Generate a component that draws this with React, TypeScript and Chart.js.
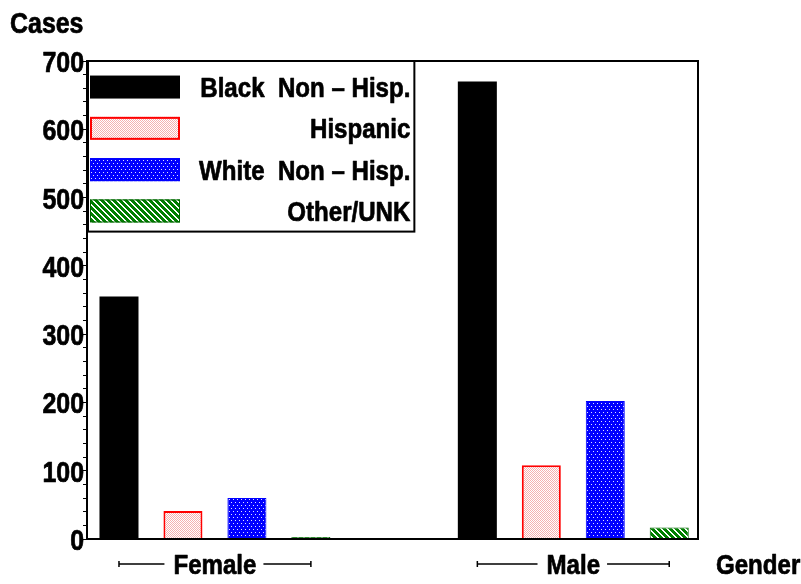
import React, { useEffect, useRef } from 'react';
import { Chart, registerables } from 'chart.js';

Chart.register(...registerables);

// ---- data ----
const categories = ['Female', 'Male'];
const seriesNames = ['Black  Non – Hisp.', 'Hispanic', 'White  Non – Hisp.', 'Other/UNK'];
const blackNonHisp = [355, 670];
const hispanic = [41, 108];
const whiteNonHisp = [60, 202];
const otherUnk = [3, 17];
const yTickLabels = [0, 100, 200, 300, 400, 500, 600, 700];
const yAxisTitle = 'Cases';
const xAxisTitle = 'Gender';

const FONT = '"Liberation Sans", Arial, Helvetica, sans-serif';
const SQUEEZE = 0.86;

function makePattern(kind: string): CanvasPattern | string {
  const c = document.createElement('canvas');
  if (kind === 'pink') {
    c.width = 4; c.height = 4;
  } else if (kind === 'dots') {
    c.width = 4; c.height = 6;
  } else {
    c.width = 6; c.height = 6;
  }
  const g = c.getContext('2d');
  if (!g) return '#888';
  if (kind === 'pink') {
    g.fillStyle = '#ffffff';
    g.fillRect(0, 0, 4, 4);
    g.fillStyle = '#f5b0b0';
    for (let y = 0; y < 4; y++) for (let x = 0; x < 4; x++) if ((x + y) % 2 === 0) g.fillRect(x, y, 1, 1);
  } else if (kind === 'dots') {
    g.fillStyle = '#0000ff';
    g.fillRect(0, 0, 4, 6);
    g.fillStyle = '#e0e0ff';
    g.fillRect(1, 1, 1, 1);
    g.fillRect(3, 4, 1, 1);
  } else {
    g.fillStyle = '#008000';
    g.fillRect(0, 0, 6, 6);
    g.fillStyle = '#ffffff';
    for (let y = 0; y < 6; y++) for (let x = 0; x < 6; x++) if ((x - y + 12) % 6 < 2) g.fillRect(x, y, 1, 1);
  }
  return g.createPattern(c, 'repeat') || '#888';
}

const toPoints = (vals: number[]) => categories.map((_, i) => ({ x: i, y: vals[i] }));

function drawText(ctx: CanvasRenderingContext2D, text: string, x: number, y: number, align: CanvasTextAlign) {
  ctx.save();
  ctx.translate(x, y);
  ctx.scale(SQUEEZE, 1);
  ctx.textAlign = align;
  ctx.textBaseline = 'alphabetic';
  ctx.fillStyle = '#000';
  ctx.strokeStyle = '#000';
  ctx.lineWidth = 0.7;
  ctx.lineJoin = 'round';
  ctx.fillText(text, 0, 0);
  ctx.strokeText(text, 0, 0);
  ctx.restore();
}

const decorPlugin = {
  id: 'decor',
  afterDraw(chart: any) {
    const { ctx, chartArea } = chart;
    const { left, top, right, bottom } = chartArea;
    ctx.save();
    // frame
    ctx.strokeStyle = '#000';
    ctx.lineWidth = 2;
    ctx.strokeRect(left, top, right - left, bottom - top);

    const font = `bold 28px ${FONT}`;

    // y axis title
    ctx.font = `bold 29px ${FONT}`;
    drawText(ctx, yAxisTitle, left - 77, top - 28, 'left');

    // y tick labels
    ctx.font = `bold 29px ${FONT}`;
    const yScale = chart.scales.y;
    yTickLabels.forEach((v) => {
      drawText(ctx, String(v), left - 3, yScale.getPixelForValue(v) + 11, 'right');
    });

    // legend
    ctx.font = font;
    const swW = 90, swH = 23, gap = 19, padL = 2, padR = 4, padT = 5.4, rowH = 41.3;
    let maxW = 0;
    seriesNames.forEach((n) => { maxW = Math.max(maxW, ctx.measureText(n).width * SQUEEZE); });
    const bx = left + 1, by = top;
    const bw = padL + swW + gap + maxW + padR;
    const bh = padT + rowH * seriesNames.length;
    ctx.fillStyle = '#fff';
    ctx.fillRect(bx, by, bw, bh);
    ctx.lineWidth = 2;
    ctx.strokeStyle = '#000';
    ctx.strokeRect(bx, by, bw, bh);
    chart.data.datasets.forEach((ds: any, i: number) => {
      const cy = by + padT + rowH * i + rowH / 2;
      const sx = bx + padL, sy = cy - swH / 2;
      ctx.fillStyle = ds.backgroundColor;
      ctx.fillRect(sx, sy, swW, swH);
      if (ds.borderWidth) {
        ctx.lineWidth = ds.borderWidth;
        ctx.strokeStyle = ds.borderColor;
        ctx.strokeRect(sx + ds.borderWidth / 2, sy + ds.borderWidth / 2, swW - ds.borderWidth, swH - ds.borderWidth);
      }
      drawText(ctx, ds.label, bx + bw - padR, cy + 10, 'right');
    });

    // category labels with bracket lines
    const xScale = chart.scales.x;
    const n = chart.data.datasets.length;
    const ly = bottom + 25;
    ctx.font = font;
    categories.forEach((cat, i) => {
      const cx = xScale.getPixelForValue(i);
      const x0 = chart.getDatasetMeta(0).data[i].x;
      const x1 = chart.getDatasetMeta(n - 1).data[i].x;
      const w = ctx.measureText(cat).width * SQUEEZE;
      drawText(ctx, cat, cx, ly + 10, 'center');
      ctx.strokeStyle = '#000';
      ctx.lineWidth = 1.5;
      ctx.beginPath();
      ctx.moveTo(x0, ly); ctx.lineTo(cx - w / 2 - 9, ly);
      ctx.moveTo(cx + w / 2 + 7, ly); ctx.lineTo(x1, ly);
      ctx.moveTo(x0, ly - 3); ctx.lineTo(x0, ly + 3);
      ctx.moveTo(x1, ly - 3); ctx.lineTo(x1, ly + 3);
      ctx.stroke();
    });
    drawText(ctx, xAxisTitle, right + 18, ly + 10, 'left');
    ctx.restore();
  },
};

export default function App() {
  const ref = useRef<HTMLCanvasElement>(null);
  useEffect(() => {
    if (!ref.current) return;
    const chart = new Chart(ref.current, {
      type: 'bar',
      data: {
        datasets: [
          { label: seriesNames[0], data: toPoints(blackNonHisp) as any, backgroundColor: '#000000', borderWidth: 0 },
          { label: seriesNames[1], data: toPoints(hispanic) as any, backgroundColor: makePattern('pink') as any, borderColor: '#ff0000', borderWidth: 2 },
          { label: seriesNames[2], data: toPoints(whiteNonHisp) as any, backgroundColor: makePattern('dots') as any, borderColor: '#0000ff', borderWidth: 1 },
          { label: seriesNames[3], data: toPoints(otherUnk) as any, backgroundColor: makePattern('green') as any, borderColor: '#006400', borderWidth: 1 },
        ],
      },
      options: {
        responsive: false,
        animation: false,
        devicePixelRatio: 1,
        layout: { padding: { top: 61, left: 10, right: 103, bottom: 0 } },
        datasets: { bar: { categoryPercentage: 0.714, barPercentage: 0.61 } } as any,
        plugins: {
          legend: { display: false },
          tooltip: { enabled: false },
          title: { display: false },
        },
        scales: {
          x: {
            type: 'linear',
            min: -0.357,
            max: 1.348,
            offset: false,
            afterBuildTicks: (s: any) => { s.ticks = categories.map((_, i) => ({ value: i })); },
            afterFit: (s: any) => { s.height = 45; },
            ticks: { display: false },
            grid: { display: false },
            border: { display: false },
          },
          y: {
            min: 0,
            max: 700,
            afterFit: (s: any) => { s.width = 77; },
            ticks: {
              stepSize: 20,
              autoSkip: false,
              padding: 0,
              color: '#000',
              font: { family: FONT, size: 10 },
              callback: () => '',
            },
            grid: { drawOnChartArea: false, drawTicks: true, tickLength: 4, color: '#000', lineWidth: 1 },
            border: { display: true, color: '#000', width: 2 },
          },
        },
      },
      plugins: [decorPlugin],
    });
    return () => chart.destroy();
  }, []);
  return (
    <div style={{ position: 'fixed', left: 0, top: 0, width: 801, height: 584, background: '#fff' }}>
      <canvas ref={ref} width={801} height={584} />
    </div>
  );
}
